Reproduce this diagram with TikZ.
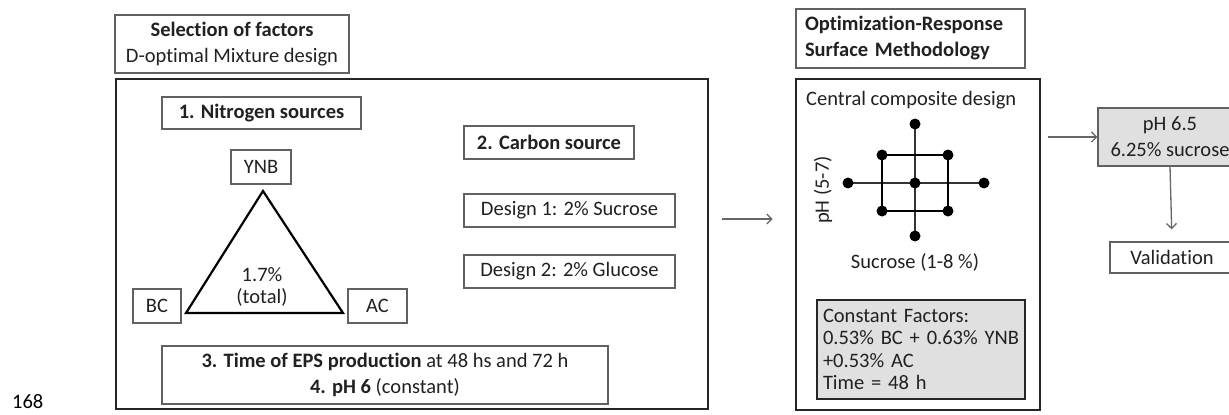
\documentclass[tikz,border=0pt]{standalone}
\usepackage{fontspec}
\setmainfont{Carlito}[Ligatures=NoCommon]
\usepackage{tikz}
\usetikzlibrary{positioning,arrows.meta}
\definecolor{c_line}{rgb}{0.38, 0.38, 0.38}
\definecolor{c_text}{rgb}{0.13, 0.13, 0.13}
\definecolor{c_arrow}{rgb}{0.40, 0.40, 0.40}
\definecolor{c_fill}{rgb}{0.88, 0.88, 0.88}
\tikzset{c-box/.style={rectangle, draw=c_line, line width=1.3pt, inner sep=0pt, align=center, text=c_text},
c-panel/.style={rectangle, draw=black!85, line width=2.6pt, inner sep=0pt},
c-dot/.style={circle, fill=black, inner sep=0pt, minimum size=11pt},
arrow/.style={draw=c_arrow, line width=1.3pt, -{Straight Barb[length=5pt,width=10pt]}}}

\begin{document}
\begin{tikzpicture}[x=1pt, y=-1pt, font=\fontsize{20.5}{26}\selectfont]
\clip (0,0) rectangle (1229,415);
\fill[white] (0,0) rectangle (1229,415);
% left part
\node (title1) [c-box, minimum width=234pt, minimum height=58pt] at (232,44) {
\textbf{Selection of factors}\\D-optimal Mixture design
};
\node (panelA) [c-panel, minimum width=592pt, minimum height=330pt] at (412,244) {};
\node (nitro) [c-box, minimum width=199pt, minimum height=32pt] at (261.5,113) {\textbf{1. Nitrogen sources}};
\node (ynb) [c-box, minimum width=60pt, minimum height=34pt] at (261,167) {YNB};
\node (bc) [c-box, minimum width=48pt, minimum height=34pt] at (157,306) {BC};
\node (ac) [c-box, minimum width=59pt, minimum height=34pt] at (377.5,306) {AC};
\coordinate (top) at (263,191);
\coordinate (left) at (186,313);
\coordinate (right) at (343,313);
\draw [black, line width=2.2pt, line join=miter] (top) -- (left) -- (right) -- cycle;
\node (total) [align=center, text=c_text, inner sep=0pt, font=\fontsize{20.5}{22}\selectfont] at (262,287) {1.7\%\\(total)};
\node (carbon) [c-box, minimum width=170pt, minimum height=33pt] at (549,142.5) {\textbf{2. Carbon source}};
\node (d1) [c-box, minimum width=211pt, minimum height=33pt] at (569.5,210.5) {Design 1: 2\% Sucrose};
\node (d2) [c-box, minimum width=211pt, minimum height=33pt] at (569.5,271.5) {Design 2: 2\% Glucose};
\node (time) [c-box, minimum width=446pt, minimum height=58pt] at (385,375) {
\textbf{3. Time of EPS production} at 48 hs and 72 h\\\textbf{4. pH 6} (constant)
};
% right part
\node (title2) [c-box, minimum width=229pt, minimum height=59pt, text width=211pt, align=left] at (910.5,38.5) {
\textbf{Optimization-Response}\\\textbf{Surface Methodology}
};
\node (panelB) [c-panel, minimum width=244pt, minimum height=331pt] at (918,244.5) {};
\node (ccd) [anchor=west, text=c_text, inner sep=0pt] at (806,100) {Central composite design};
\coordinate (m) at (915,183);
\draw [black!80, line width=1.2pt] (848,183) -- (984,183) (915,124) -- (915,236);
\draw [black, line width=2.6pt] (882,155) rectangle (948,211);
\foreach \p in {(848,183),(984,183),(915,124),(915,236),(882,155),(948,155),(882,211),(948,211),(915,183)}
  \node [c-dot] at \p {};
\node (ph) [rotate=90, text=c_text, inner sep=0pt] at (823,190) {pH (5-7)};
\node (suc) [text=c_text, inner sep=0pt] at (915,262) {Sucrose (1-8 \%)};
\node (const) [c-box, draw=black!85, line width=2.2pt, fill=c_fill, minimum width=208pt, minimum height=99pt, text width=196pt, align=left, font=\fontsize{20.5}{22.5}\selectfont] at (921,349.5) {
Constant Factors:\\0.53\% BC + 0.63\% YNB\\+0.53\% AC\\Time = 48 h
};
\node (res) [c-box, fill=c_fill, minimum width=144pt, minimum height=58pt] at (1170,137) {
pH 6.5\\6.25\% sucrose
};
\node (valid) [c-box, minimum width=124pt, minimum height=31pt] at (1172,257.5) {Validation};
\node (page) [anchor=base west, inner sep=0pt, text=black] at (12,408) {168};
% connectors
\coordinate (a0) at ([xshift=13pt, yshift=25pt]panelA.east);
\coordinate (b0) at ([xshift=7pt]panelB.east);
\draw [arrow, shorten >=22pt] (a0) -- (a0 -| panelB.west);
\draw [arrow] (b0 |- res.west) -- (res.west);
\draw [arrow, shorten >=12pt] (res.south) -- (valid.north);
\end{tikzpicture}
\end{document}
